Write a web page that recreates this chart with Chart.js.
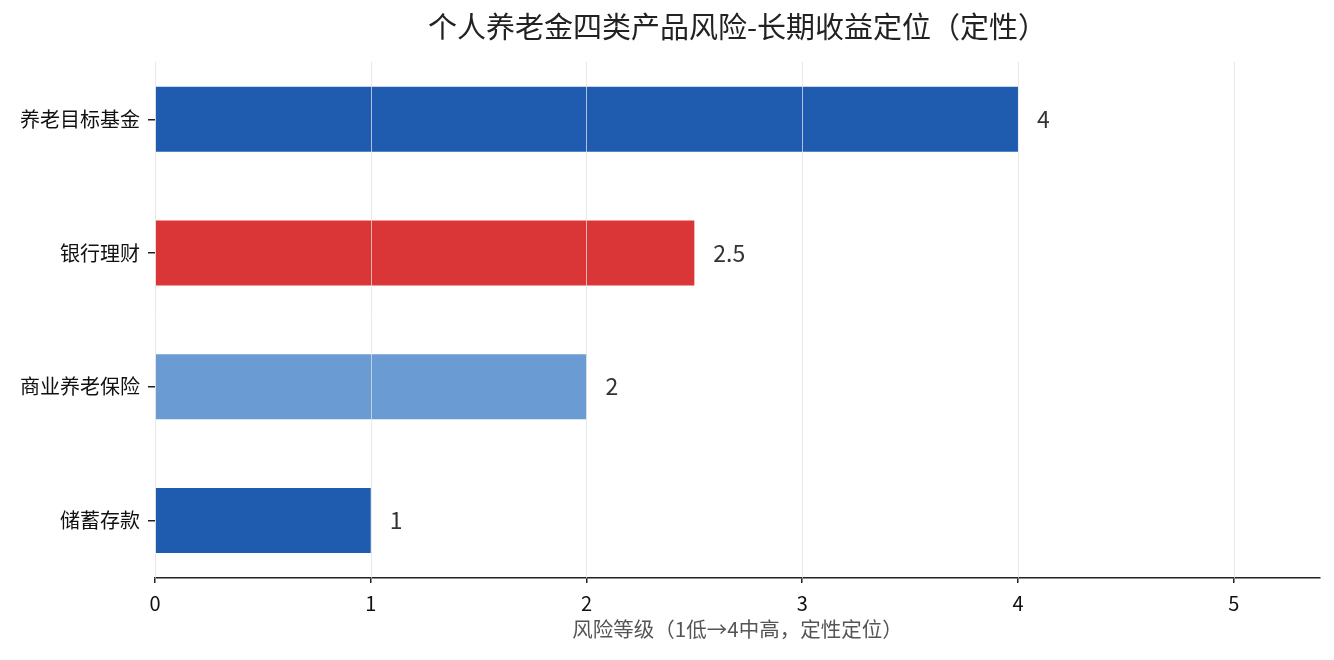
<!DOCTYPE html>
<html>
<head>
<meta charset="utf-8">
<script src="https://cdn.jsdelivr.net/npm/chart.js@4.4.1/dist/chart.umd.min.js"></script>
<style>
  html, body { margin: 0; padding: 0; background: #fff; }
  #chartBox { width: 1334px; height: 660px; }
</style>
</head>
<body>
<div id="chartBox"><canvas id="riskChart" width="1334" height="660"></canvas></div>
<script>
const categories = ['养老目标基金', '银行理财', '商业养老保险', '储蓄存款'];
const riskLevels = [4, 2.5, 2, 1];
const barColors = ['#1f5cb0', '#da3637', '#6b9bd3', '#1f5cb0'];
const xTicks = [0, 1, 2, 3, 4, 5];

const titleText = '个人养老金四类产品风险-长期收益定位（定性）';
const xTitleText = '风险等级（1低→4中高，定性定位）';

Chart.defaults.font.family = '"Noto Sans CJK SC", "Noto Sans", sans-serif';

// grid lines sit on top of the bars in the original
const gridOnTop = {
    id: 'gridOnTop',
    afterDatasetsDraw(chart) {
        const { ctx, chartArea, scales } = chart;
        ctx.save();
        ctx.strokeStyle = 'rgba(225,225,225,0.75)';
        ctx.lineWidth = 1;
        xTicks.forEach(t => {
            const x = Math.round(scales.x.getPixelForValue(t)) + 0.5;
            ctx.beginPath();
            ctx.moveTo(x, chartArea.top);
            ctx.lineTo(x, chartArea.bottom);
            ctx.stroke();
        });
        ctx.restore();
    }
};

const valueLabels = {
    id: 'valueLabels',
    afterDatasetsDraw(chart) {
        const { ctx } = chart;
        const meta = chart.getDatasetMeta(0);
        ctx.save();
        ctx.font = '23px "Noto Sans CJK SC", "Noto Sans", sans-serif';
        ctx.fillStyle = '#333';
        ctx.textAlign = 'left';
        ctx.textBaseline = 'middle';
        meta.data.forEach((bar, i) => {
            ctx.fillText(String(riskLevels[i]), bar.x + 19, bar.y);
        });
        ctx.restore();
    }
};

const ctx = document.getElementById('riskChart').getContext('2d');
new Chart(ctx, {
    type: 'bar',
    data: {
        datasets: [{
            data: riskLevels.map((v, i) => ({ x: v, y: i })),
            backgroundColor: barColors,
            borderWidth: 0,
            categoryPercentage: 1,
            barPercentage: 0.485
        }]
    },
    options: {
        indexAxis: 'y',
        responsive: false,
        animation: false,
        devicePixelRatio: 1,
        layout: { padding: { left: 0, right: 14, top: 0, bottom: 0 } },
        plugins: {
            legend: { display: false },
            tooltip: { enabled: false },
            title: {
                display: true,
                text: titleText,
                fullSize: false,
                color: '#222',
                font: { size: 29, weight: 'normal' },
                padding: { top: 10, bottom: 17 }
            }
        },
        scales: {
            x: {
                type: 'linear',
                min: 0,
                max: 5.4,
                afterFit: s => { s.height = 82; },
                border: { display: true, color: '#222', width: 1.5 },
                grid: { drawOnChartArea: false, drawTicks: true, tickLength: 5, color: '#222', lineWidth: 1.5 },
                ticks: {
                    stepSize: 1,
                    includeBounds: false,
                    color: '#111',
                    padding: 8,
                    font: { size: 20 }
                },
                title: {
                    display: true,
                    text: xTitleText,
                    color: '#555',
                    font: { size: 20.5 },
                    padding: { top: 2, bottom: 18 }
                }
            },
            y: {
                type: 'linear',
                reverse: true,
                offset: false,
                min: -0.43,
                max: 3.43,
                afterFit: s => { s.width = 155; },
                afterBuildTicks: s => { s.ticks = categories.map((c, i) => ({ value: i })); },
                border: { display: false },
                grid: { offset: false, drawOnChartArea: false, drawTicks: true, tickLength: 7, color: '#222', lineWidth: 1.5 },
                ticks: {
                    color: '#111',
                    padding: 8,
                    font: { size: 20 },
                    callback: v => categories[v] || ''
                }
            }
        }
    },
    plugins: [gridOnTop, valueLabels]
});
</script>
</body>
</html>
